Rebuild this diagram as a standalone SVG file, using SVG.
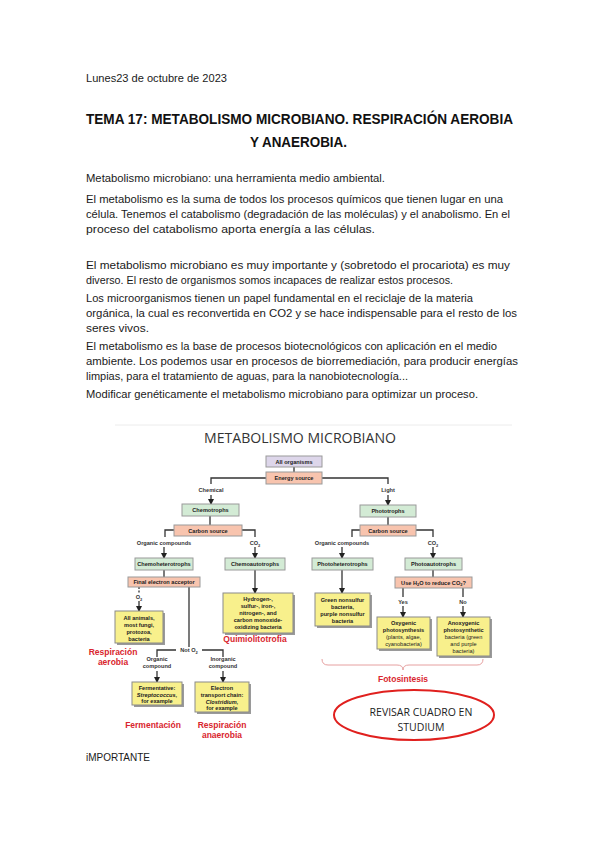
<svg xmlns="http://www.w3.org/2000/svg" width="599" height="848" viewBox="0 0 599 848">
<style>
.body{font-family:"Liberation Sans",Arial,sans-serif;font-size:11.5px;fill:#1a1a1a}
.ttl{font-family:"Liberation Sans",Arial,sans-serif;font-size:15.5px;font-weight:bold;fill:#111}
.dt{font-family:"Open Sans","Liberation Sans",sans-serif;font-size:15px;fill:#333}
.n{font-family:"Liberation Sans",Arial,sans-serif;font-size:5.6px;font-weight:bold;fill:#222;text-anchor:middle}
.nn{font-family:"Liberation Sans",Arial,sans-serif;font-size:5.6px;fill:#222;text-anchor:middle}
.lb{font-family:"Liberation Sans",Arial,sans-serif;font-size:5.6px;font-weight:bold;fill:#333;text-anchor:middle}
.red{font-family:"Liberation Sans",Arial,sans-serif;font-size:8.5px;font-weight:bold;fill:#d9252e;text-anchor:middle}
.lav{fill:#ddd6ea;stroke:#9a9a9a;stroke-width:1}
.sal{fill:#f8c4ae;stroke:#9a9a9a;stroke-width:1}
.grn{fill:#d3ebd5;stroke:#9a9a9a;stroke-width:1}
.yel{fill:#f8f08c;stroke:#8a8a8a;stroke-width:1}
.sh{fill:#9a9a9a}
.c{fill:none;stroke:#333;stroke-width:1.3}
.ar{fill:none;stroke:#333;stroke-width:1.3;marker-end:url(#ah)}
.it{font-style:italic}
</style>
<defs>
<marker id="ah" markerWidth="6" markerHeight="6" refX="5" refY="3" orient="auto" markerUnits="userSpaceOnUse">
<path d="M0,0 L6,3 L0,6 Z" fill="#222"/>
</marker>
</defs>
<rect width="599" height="848" fill="#fff"/>

<g id="text-header">
<text class="body" x="86" y="82" textLength="141" lengthAdjust="spacingAndGlyphs">Lunes23 de octubre de 2023</text>
<text class="ttl" x="86" y="124" textLength="427" lengthAdjust="spacingAndGlyphs">TEMA 17: METABOLISMO MICROBIANO. RESPIRACIÓN AEROBIA</text>
<text class="ttl" x="250" y="147" textLength="97" lengthAdjust="spacingAndGlyphs">Y ANAEROBIA.</text>
</g>

<g id="text-body">
<text class="body" x="86" y="182" textLength="299" lengthAdjust="spacingAndGlyphs">Metabolismo microbiano: una herramienta medio ambiental.</text>
<text class="body" x="86" y="203" textLength="417" lengthAdjust="spacingAndGlyphs">El metabolismo es la suma de todos los procesos químicos que tienen lugar en una</text>
<text class="body" x="86" y="218" textLength="424" lengthAdjust="spacingAndGlyphs">célula. Tenemos el catabolismo (degradación de las moléculas) y el anabolismo. En el</text>
<text class="body" x="86" y="233" textLength="289" lengthAdjust="spacingAndGlyphs">proceso del catabolismo aporta energía a las células.</text>
<text class="body" x="86" y="269" textLength="424" lengthAdjust="spacingAndGlyphs">El metabolismo microbiano es muy importante y (sobretodo el procariota) es muy</text>
<text class="body" x="86" y="284" textLength="367" lengthAdjust="spacingAndGlyphs">diverso.  El resto de organismos somos incapaces de realizar estos procesos.</text>
<text class="body" x="86" y="302" textLength="387" lengthAdjust="spacingAndGlyphs">Los microorganismos tienen un papel fundamental en el reciclaje de la materia</text>
<text class="body" x="86" y="317" textLength="431" lengthAdjust="spacingAndGlyphs">orgánica, la cual es reconvertida en CO2 y  se hace indispensable para el resto de los</text>
<text class="body" x="86" y="332" textLength="63" lengthAdjust="spacingAndGlyphs">seres vivos.</text>
<text class="body" x="86" y="350" textLength="411" lengthAdjust="spacingAndGlyphs">El metabolismo es la base de procesos biotecnológicos con aplicación en el medio</text>
<text class="body" x="86" y="365" textLength="432" lengthAdjust="spacingAndGlyphs">ambiente.  Los podemos usar en procesos de biorremediación, para producir energías</text>
<text class="body" x="86" y="380" textLength="322" lengthAdjust="spacingAndGlyphs">limpias, para el tratamiento de aguas, para la nanobiotecnología...</text>
<text class="body" x="86" y="398" textLength="392" lengthAdjust="spacingAndGlyphs">Modificar genéticamente el metabolismo microbiano para optimizar un proceso.</text>
<text class="body" x="86" y="761" textLength="64" lengthAdjust="spacingAndGlyphs">iMPORTANTE</text>
</g>

<g id="diagram-frame">
<line x1="115" y1="425" x2="512" y2="425" stroke="#ececec" stroke-width="1"/>
<text class="dt" x="204" y="443" textLength="192" lengthAdjust="spacingAndGlyphs">METABOLISMO MICROBIANO</text>
</g>

<g id="connectors">
<line class="c" x1="294" y1="467" x2="294" y2="472"/>
<path class="c" d="M266,478 H211 V484"/>
<path class="c" d="M322,478 H388 V484"/>
<line class="ar" x1="211" y1="495" x2="211" y2="504"/>
<line class="ar" x1="388" y1="495" x2="388" y2="505"/>
<line class="c" x1="210" y1="516" x2="210" y2="525"/>
<path class="c" d="M174,530 H165 V537"/>
<path class="c" d="M242,530 H255 V537"/>
<line class="ar" x1="164" y1="547" x2="164" y2="558"/>
<line class="ar" x1="255" y1="547" x2="255" y2="558"/>
<line class="c" x1="164" y1="570" x2="164" y2="577"/>
<line class="ar" x1="255" y1="570" x2="255" y2="593"/>
<line class="c" x1="139" y1="587" x2="139" y2="593" stroke-dasharray="2,1.5"/>
<line class="ar" x1="139" y1="601" x2="139" y2="611"/>
<line class="c" x1="189" y1="587" x2="189" y2="647"/>
<path class="c" d="M157,657 V650 H176"/>
<path class="c" d="M202,650 H223 V657"/>
<line class="ar" x1="157" y1="671" x2="157" y2="682"/>
<line class="ar" x1="223" y1="671" x2="223" y2="682"/>
<line class="c" x1="388" y1="517" x2="388" y2="525"/>
<path class="c" d="M360,530 H352 V537"/>
<path class="c" d="M416,530 H433 V537"/>
<line class="ar" x1="342" y1="547" x2="342" y2="558"/>
<line class="ar" x1="433" y1="547" x2="433" y2="558"/>
<line class="ar" x1="342" y1="570" x2="342" y2="593"/>
<line class="c" x1="433" y1="570" x2="433" y2="577"/>
<line class="c" x1="403" y1="588" x2="403" y2="597"/>
<line class="c" x1="463" y1="588" x2="463" y2="597"/>
<line class="ar" x1="403" y1="606" x2="403" y2="617"/>
<line class="ar" x1="463" y1="606" x2="463" y2="617"/>
<path d="M322,659 Q322,665 328,665 H397 Q403,665 403,670 Q403,665 409,665 H477 Q483,665 483,659" fill="none" stroke="#e6a0a0" stroke-width="1"/>
</g>

<g id="edge-labels">
<text class="lb" x="211" y="492">Chemical</text>
<text class="lb" x="388" y="492">Light</text>
<text class="lb" x="164" y="545">Organic compounds</text>
<text class="lb" x="255" y="545">CO<tspan font-size="4" dy="1.5">2</tspan></text>
<text class="lb" x="342" y="545">Organic compounds</text>
<text class="lb" x="433" y="545">CO<tspan font-size="4" dy="1.5">2</tspan></text>
<text class="lb" x="139" y="599">O<tspan font-size="4" dy="1.5">2</tspan></text>
<text class="lb" x="189" y="652">Not O<tspan font-size="4" dy="1.5">2</tspan></text>
<text class="lb" x="157" y="661">Organic</text>
<text class="lb" x="157" y="668">compound</text>
<text class="lb" x="223" y="661">Inorganic</text>
<text class="lb" x="223" y="668">compound</text>
<text class="lb" x="403" y="604">Yes</text>
<text class="lb" x="463" y="604">No</text>
</g>

<g id="n-all-organisms"><rect class="lav" x="266" y="456" width="56" height="11"/><text class="n" x="294" y="463.5">All organisms</text></g>
<g id="n-energy-source"><rect class="sal" x="266" y="472" width="56" height="12"/><text class="n" x="294" y="480">Energy source</text></g>
<g id="n-chemotrophs"><rect class="grn" x="182" y="504" width="57" height="12"/><text class="n" x="210.5" y="512">Chemotrophs</text></g>
<g id="n-phototrophs"><rect class="grn" x="360" y="505" width="56" height="12"/><text class="n" x="388" y="513">Phototrophs</text></g>
<g id="n-carbon-left"><rect class="sal" x="174" y="525" width="68" height="11"/><text class="n" x="208" y="532.5">Carbon source</text></g>
<g id="n-carbon-right"><rect class="sal" x="360" y="525" width="56" height="11"/><text class="n" x="388" y="532.5">Carbon source</text></g>
<g id="n-chemoheterotrophs"><rect class="grn" x="135" y="558" width="58" height="12"/><text class="n" x="164" y="566">Chemoheterotrophs</text></g>
<g id="n-chemoautotrophs"><rect class="grn" x="225" y="558" width="60" height="12"/><text class="n" x="255" y="566">Chemoautotrophs</text></g>
<g id="n-photoheterotrophs"><rect class="grn" x="312" y="558" width="61" height="12"/><text class="n" x="342.5" y="566">Photoheterotrophs</text></g>
<g id="n-photoautotrophs"><rect class="grn" x="405" y="558" width="57" height="12"/><text class="n" x="433.5" y="566">Photoautotrophs</text></g>
<g id="n-final-acceptor"><rect class="sal" x="128" y="577" width="72" height="10"/><text class="n" x="164" y="584">Final electron acceptor</text></g>
<g id="n-use-h2o"><rect class="sal" x="395" y="577" width="77" height="11"/><text class="n" x="433.5" y="584.5">Use H<tspan font-size="4" dy="1.2">2</tspan><tspan dy="-1.2">O to reduce CO</tspan><tspan font-size="4" dy="1.2">2</tspan><tspan dy="-1.2">?</tspan></text></g>

<g id="n-chemolitho">
<rect class="sh" x="225" y="595" width="70" height="40"/>
<rect class="yel" x="223" y="593" width="70" height="40"/>
<text class="n" x="258" y="601">Hydrogen-,</text>
<text class="n" x="258" y="608">sulfur-, iron-,</text>
<text class="n" x="258" y="615">nitrogen-, and</text>
<text class="n" x="258" y="622">carbon monoxide-</text>
<text class="n" x="258" y="629">oxidizing bacteria</text>
</g>
<g id="n-all-animals">
<rect class="sh" x="117" y="613" width="48" height="32"/>
<rect class="yel" x="115" y="611" width="48" height="32"/>
<text class="n" x="139" y="619.5">All animals,</text>
<text class="n" x="139" y="626.5">most fungi,</text>
<text class="n" x="139" y="633.5">protozoa,</text>
<text class="n" x="139" y="640.5">bacteria</text>
</g>
<g id="n-fermentative">
<rect class="sh" x="134" y="684" width="50" height="23"/>
<rect class="yel" x="132" y="682" width="50" height="23"/>
<text class="n" x="157" y="689.5">Fermentative:</text>
<text class="n it" x="157" y="696.5">Streptococcus,</text>
<text class="n" x="157" y="703">for example</text>
</g>
<g id="n-electron-transport">
<rect class="sh" x="197" y="684" width="54" height="30"/>
<rect class="yel" x="195" y="682" width="54" height="30"/>
<text class="n" x="222" y="689.5">Electron</text>
<text class="n" x="222" y="696.5">transport chain:</text>
<text class="n it" x="222" y="703.5">Clostridium,</text>
<text class="n" x="222" y="710">for example</text>
</g>
<g id="n-green-nonsulfur">
<rect class="sh" x="317" y="595" width="55" height="33"/>
<rect class="yel" x="315" y="593" width="55" height="33"/>
<text class="n" x="342.5" y="601.5">Green nonsulfur</text>
<text class="n" x="342.5" y="608.5">bacteria,</text>
<text class="n" x="342.5" y="615.5">purple nonsulfur</text>
<text class="n" x="342.5" y="622.5">bacteria</text>
</g>
<g id="n-oxygenic">
<rect class="sh" x="379" y="619" width="53" height="32"/>
<rect class="yel" x="377" y="617" width="53" height="32"/>
<text class="n" x="403.5" y="625">Oxygenic</text>
<text class="n" x="403.5" y="632">photosynthesis</text>
<text class="nn" x="403.5" y="639">(plants, algae,</text>
<text class="nn" x="403.5" y="646">cyanobacteria)</text>
</g>
<g id="n-anoxygenic">
<rect class="sh" x="439" y="619" width="53" height="39"/>
<rect class="yel" x="437" y="617" width="53" height="39"/>
<text class="n" x="463.5" y="625">Anoxygenic</text>
<text class="n" x="463.5" y="632">photosynthetic</text>
<text class="nn" x="463.5" y="639">bacteria (green</text>
<text class="nn" x="463.5" y="646">and purple</text>
<text class="nn" x="463.5" y="653">bacteria)</text>
</g>

<g id="red-labels">
<text class="red" x="113" y="655">Respiración</text>
<text class="red" x="113" y="665">aerobia</text>
<text class="red" x="255" y="642">Quimiolitotrofia</text>
<text class="red" x="153" y="728">Fermentación</text>
<text class="red" x="222" y="728">Respiración</text>
<text class="red" x="222" y="738">anaerobia</text>
<text class="red" x="403" y="682">Fotosintesis</text>
</g>

<g id="n-revisar">
<ellipse cx="414" cy="715" rx="80" ry="25" fill="none" stroke="#e0201e" stroke-width="2"/>
<text x="421" y="716" font-family="'Open Sans','Liberation Sans',sans-serif" font-size="10.5" fill="#222" text-anchor="middle">REVISAR CUADRO EN</text>
<text x="421" y="731" font-family="'Open Sans','Liberation Sans',sans-serif" font-size="10.5" fill="#222" text-anchor="middle">STUDIUM</text>
</g>
</svg>
